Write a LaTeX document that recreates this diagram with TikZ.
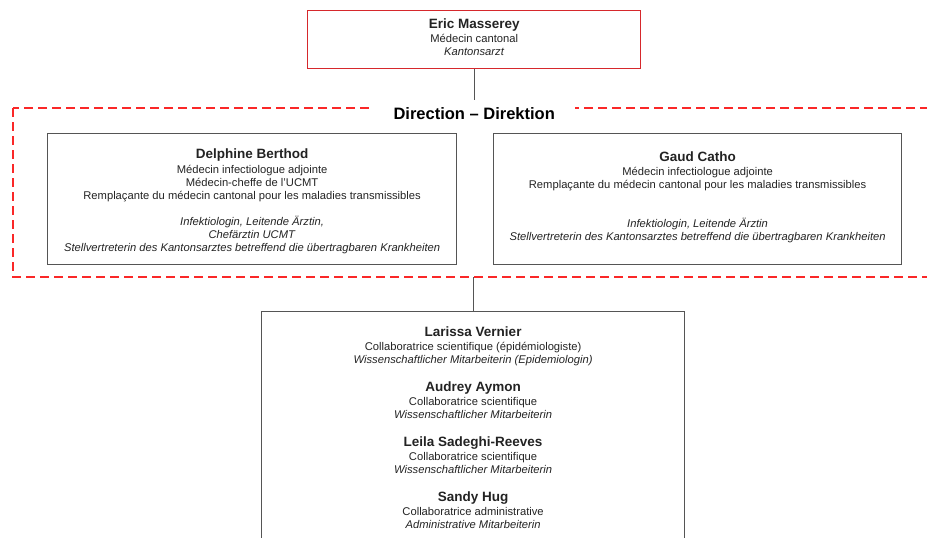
\documentclass[tikz,border=0pt]{standalone}
\usepackage{fontspec}
\setmainfont{Liberation Sans}
\usepackage{xcolor}
\usetikzlibrary{positioning}

\definecolor{chiefred}{RGB}{214,40,44}
\definecolor{dashred}{RGB}{250,40,40}
\definecolor{boxgray}{RGB}{85,85,85}
\definecolor{txtgray}{RGB}{35,35,35}

\newcommand{\pname}[1]{{\fontsize{13.5}{13}\selectfont\bfseries #1}}

\begin{document}
\begin{tikzpicture}[x=1pt,y=-1pt,
    every node/.style={font=\fontsize{11.2}{13}\selectfont, text=txtgray, align=center, inner sep=0pt},
    box/.style={draw=boxgray, line width=1.2pt, anchor=north west},
    link/.style={draw=boxgray, line width=1.2pt}]
    \useasboundingbox (0,0) rectangle (927,538);
    \clip (0,0) rectangle (927,538);
    % Kantonsarzt
    \node[box, draw=chiefred, line width=1.4pt, minimum width=333pt, minimum height=58pt] (chief) at (307,10) {};
    \node[below=9pt of chief.north] (chieftxt)
        {\pname{Eric Masserey}\\[1pt] Médecin cantonal\\ \textit{Kantonsarzt}};
    % Direktion
    \draw[dashred, line width=1.2pt, dash pattern=on 9pt off 5pt] (13,108) rectangle (960,277);
    \coordinate (dirtop) at (0,114);
    \coordinate (dirbot) at (0,277);
    \node[fill=white, inner xsep=20pt, inner ysep=8pt, font=\fontsize{16.5}{17}\selectfont\bfseries, text=black] (title) at (chief.south |- dirtop)
        {Direction – Direktion};
    \node[box, minimum width=409pt, minimum height=131pt] (berthod) at (47,133) {};
    \node[below=16pt of berthod.north] (berthodtxt)
        {\pname{Delphine Berthod}\\[2pt] Médecin infectiologue adjointe\\ Médecin-cheffe de l'UCMT\\
         Remplaçante du médecin cantonal pour les maladies transmissibles\\[13pt]
         \textit{Infektiologin, Leitende Ärztin,}\\ \textit{Chefärztin UCMT}\\
         \textit{Stellvertreterin des Kantonsarztes betreffend die übertragbaren Krankheiten}};
    \node[box, minimum width=408pt, minimum height=131pt] (catho) at (493,133) {};
    \node[below=19pt of catho.north] (cathotxt)
        {\pname{Gaud Catho}\\[1pt] Médecin infectiologue adjointe\\
         Remplaçante du médecin cantonal pour les maladies transmissibles\\[26pt]
         \textit{Infektiologin, Leitende Ärztin}\\
         \textit{Stellvertreterin des Kantonsarztes betreffend die übertragbaren Krankheiten}};
    % Mitarbeitende
    \node[box, minimum width=423pt, minimum height=260pt] (team) at (261,311) {};
    \node[below=16pt of team.north] (staff)
        {\pname{Larissa Vernier}\\[1pt] Collaboratrice scientifique (épidémiologiste)\\
         \textit{Wissenschaftlicher Mitarbeiterin (Epidemiologin)}\\[15pt]
         \pname{Audrey Aymon}\\[1pt] Collaboratrice scientifique\\
         \textit{Wissenschaftlicher Mitarbeiterin}\\[15pt]
         \pname{Leila Sadeghi-Reeves}\\[1pt] Collaboratrice scientifique\\
         \textit{Wissenschaftlicher Mitarbeiterin}\\[15pt]
         \pname{Sandy Hug}\\[1pt] Collaboratrice administrative\\
         \textit{Administrative Mitarbeiterin}};
    \coordinate (regbot) at (team.north |- dirbot);
    \draw[link] (chief.south) -- (title.north);
    \draw[link] (regbot) -- (team.north);
\end{tikzpicture}
\end{document}
